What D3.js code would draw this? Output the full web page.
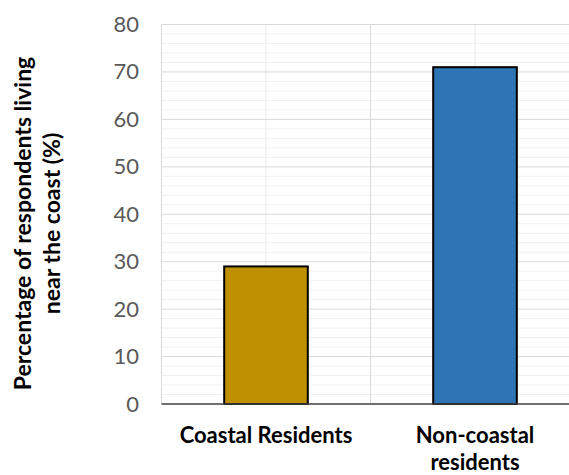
<!DOCTYPE html>
<html><head><meta charset="utf-8">
<script src="https://cdn.jsdelivr.net/npm/d3@7"></script>
<style>body{margin:0;background:#fff}</style>
</head><body>
<svg id="c" width="569" height="475"></svg>
<script>
const categories = ["Coastal Residents", "Non-coastal residents"];
const categoryLines = [["Coastal Residents"], ["Non-coastal", "residents"]];
const values = [29, 71];
const barColors = ["#BF9000", "#2E75B6"];
const yTicks = [0, 10, 20, 30, 40, 50, 60, 70, 80];
const yTitle = ["Percentage of respondents living", "near the coast (%)"];

const svg = d3.select("#c");
const L = 161.5, R = 579.5, T = 24.5, B = 404;
const x = d3.scaleBand().domain(categories).range([L, R]);
const y = d3.scaleLinear().domain([0, 80]).range([B, T]);
const FONT = "Lato, 'Open Sans', sans-serif";

// minor horizontal gridlines
const minor = d3.range(0, 81, 2).filter(v => v % 10 !== 0);
svg.append("g").selectAll("line").data(minor).join("line")
  .attr("x1", L).attr("x2", 569).attr("y1", d => y(d)).attr("y2", d => y(d))
  .attr("stroke", "#f0f0f0").attr("stroke-width", 1);
// minor vertical gridlines at category centers
svg.append("g").selectAll("line").data(categories).join("line")
  .attr("x1", d => x(d) + x.bandwidth()/2).attr("x2", d => x(d) + x.bandwidth()/2)
  .attr("y1", T).attr("y2", B).attr("stroke", "#f0f0f0").attr("stroke-width", 1.5);
// major horizontal gridlines
svg.append("g").selectAll("line").data(yTicks.filter(d => d > 0)).join("line")
  .attr("x1", L).attr("x2", 569).attr("y1", d => y(d)).attr("y2", d => y(d))
  .attr("stroke", "#d9d9d9").attr("stroke-width", 1);
// major vertical gridlines at category boundaries
svg.append("g").selectAll("line").data(categories).join("line")
  .attr("x1", d => x(d)).attr("x2", d => x(d))
  .attr("y1", T).attr("y2", B).attr("stroke", "#d9d9d9").attr("stroke-width", 1);

// bars
const bw = x.bandwidth() * 0.4;
svg.append("g").selectAll("rect").data(values).join("rect")
  .attr("x", (d, i) => x(categories[i]) + x.bandwidth()/2 - bw/2)
  .attr("width", bw)
  .attr("y", d => y(d)).attr("height", d => B - y(d))
  .attr("fill", (d, i) => barColors[i]).attr("stroke", "#000").attr("stroke-width", 2);

// x axis line
svg.append("line").attr("x1", L).attr("x2", 569).attr("y1", B).attr("y2", B)
  .attr("stroke", "#404040").attr("stroke-width", 1.5);

// y axis
const yAxis = d3.axisLeft(y).tickValues(yTicks).tickSize(0).tickPadding(0);
const gy = svg.append("g").attr("transform", `translate(139,0)`).call(yAxis);
gy.select(".domain").remove();
gy.selectAll("text").attr("fill", "#595959").attr("font-family", FONT).attr("font-size", 22);

// x labels
const xl = svg.append("g");
categoryLines.forEach((lines, i) => {
  const t = xl.append("text").attr("text-anchor", "middle")
    .attr("font-family", FONT).attr("font-weight", "bold").attr("font-size", 22)
    .attr("fill", "#000");
  lines.forEach((ln, j) => {
    t.append("tspan").attr("x", x(categories[i]) + x.bandwidth()/2).attr("y", 443 + j * 26.5).text(ln);
  });
});

// y title
const yt = svg.append("text").attr("transform", "translate(0,223.5) rotate(-90)")
  .attr("text-anchor", "middle").attr("font-family", FONT)
  .attr("font-weight", "bold").attr("font-size", 23).attr("fill", "#000");
yTitle.forEach((ln, j) => yt.append("tspan").attr("x", 0).attr("y", 31 + j * 29).text(ln));
</script>
</body></html>
